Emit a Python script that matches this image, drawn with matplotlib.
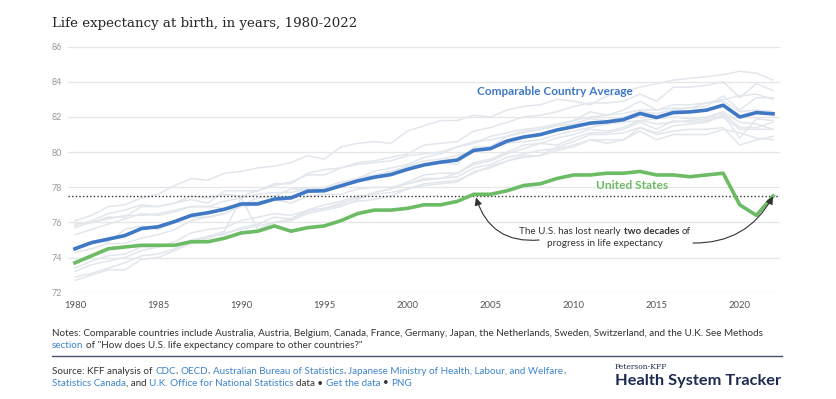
import matplotlib
matplotlib.use("Agg")
import matplotlib.pyplot as plt

# ---------------- data ----------------
years = list(range(1980, 2023))

comparable_avg = [74.5, 74.85, 75.05, 75.25, 75.65, 75.75, 76.05, 76.4, 76.55, 76.75,
                  77.05, 77.05, 77.33, 77.4, 77.78, 77.8, 78.08, 78.36, 78.57, 78.72,
                  79.02, 79.27, 79.43, 79.55, 80.1, 80.2, 80.63, 80.86, 81.0, 81.26,
                  81.45, 81.65, 81.72, 81.85, 82.2, 81.97, 82.25, 82.29, 82.39, 82.67,
                  82.0, 82.25, 82.18]

united_states = [73.7, 74.1, 74.5, 74.6, 74.7, 74.7, 74.7, 74.9, 74.9, 75.1,
                 75.4, 75.5, 75.8, 75.5, 75.7, 75.8, 76.1, 76.5, 76.7, 76.7,
                 76.8, 77.0, 77.0, 77.2, 77.6, 77.6, 77.8, 78.1, 78.2, 78.5,
                 78.7, 78.7, 78.8, 78.8, 78.9, 78.7, 78.7, 78.6, 78.7, 78.8,
                 77.0, 76.4, 77.5]

japan = [76.1, 76.4, 76.9, 77.0, 77.4, 77.6, 78.1, 78.5, 78.4, 78.8,
         78.9, 79.1, 79.2, 79.4, 79.8, 79.6, 80.3, 80.5, 80.6, 80.5,
         81.2, 81.5, 81.8, 81.8, 82.1, 82.0, 82.4, 82.6, 82.7, 83.0,
         82.9, 82.7, 83.2, 83.4, 83.7, 83.9, 84.1, 84.2, 84.3, 84.4,
         84.6, 84.5, 84.1]
switzerland = [75.7, 76.0, 76.3, 76.3, 76.9, 76.9, 77.1, 77.5, 77.4, 77.6,
               77.5, 77.8, 78.1, 78.3, 78.7, 78.7, 79.1, 79.4, 79.5, 79.7,
               79.9, 80.4, 80.5, 80.6, 81.2, 81.4, 81.7, 82.0, 82.1, 82.3,
               82.6, 82.8, 82.8, 82.9, 83.3, 82.9, 83.7, 83.7, 83.8, 84.0,
               83.1, 83.9, 83.5]
australia = [74.6, 74.9, 74.9, 75.6, 75.8, 75.6, 76.0, 76.3, 76.3, 76.5,
             77.0, 77.4, 77.5, 77.9, 77.9, 77.9, 78.2, 78.5, 78.9, 79.1,
             79.3, 79.7, 79.9, 80.3, 80.5, 80.9, 81.1, 81.3, 81.4, 81.6,
             81.8, 82.0, 82.1, 82.2, 82.4, 82.4, 82.5, 82.5, 82.8, 83.0,
             83.2, 83.3, 83.0]
sweden = [75.8, 76.1, 76.5, 76.7, 77.0, 76.9, 77.1, 77.3, 77.1, 77.8,
          77.8, 77.8, 78.2, 78.2, 78.8, 79.0, 79.1, 79.3, 79.4, 79.5,
          79.8, 79.9, 80.0, 80.3, 80.6, 80.7, 80.9, 81.1, 81.3, 81.5,
          81.6, 81.9, 81.8, 82.0, 82.3, 82.2, 82.4, 82.5, 82.6, 83.2,
          82.4, 83.1, 83.1]
france = [74.3, 74.5, 74.8, 74.8, 75.1, 75.3, 75.6, 76.1, 76.3, 76.5,
          76.9, 77.0, 77.3, 77.3, 77.7, 77.9, 78.1, 78.4, 78.6, 78.8,
          79.2, 79.3, 79.4, 79.3, 80.3, 80.3, 80.9, 81.2, 81.3, 81.5,
          81.8, 82.3, 82.1, 82.4, 82.9, 82.4, 82.7, 82.7, 82.8, 82.9,
          82.3, 82.4, 82.3]
canada = [75.3, 75.6, 75.9, 76.2, 76.5, 76.4, 76.6, 76.9, 76.9, 77.2,
          77.4, 77.6, 77.7, 77.7, 77.9, 78.0, 78.3, 78.5, 78.7, 78.9,
          79.2, 79.5, 79.6, 79.8, 80.1, 80.2, 80.5, 80.6, 80.7, 81.0,
          81.2, 81.4, 81.6, 81.7, 81.8, 81.9, 82.0, 81.9, 82.0, 82.3,
          81.7, 81.6, 81.3]
netherlands = [75.9, 76.0, 76.2, 76.4, 76.4, 76.5, 76.7, 76.9, 76.9, 76.8,
               77.0, 77.2, 77.3, 77.1, 77.5, 77.6, 77.6, 77.9, 78.0, 78.0,
               78.2, 78.4, 78.5, 78.8, 79.4, 79.6, 80.0, 80.4, 80.5, 80.8,
               81.0, 81.3, 81.2, 81.4, 81.8, 81.6, 81.7, 81.8, 81.9, 82.2,
               81.4, 81.4, 81.7]
austria = [72.7, 73.0, 73.3, 73.3, 73.9, 74.0, 74.4, 74.8, 75.1, 75.4,
           75.6, 75.8, 76.0, 76.2, 76.6, 76.8, 77.1, 77.4, 77.7, 77.9,
           78.3, 78.7, 78.8, 78.8, 79.3, 79.5, 79.9, 80.2, 80.5, 80.4,
           80.8, 81.1, 81.1, 81.3, 81.7, 81.3, 81.8, 81.7, 81.8, 82.0,
           81.3, 81.3, 81.3]
belgium = [73.4, 73.8, 74.1, 74.2, 74.6, 74.6, 74.9, 75.4, 75.6, 75.7,
           76.1, 76.3, 76.5, 76.4, 76.7, 77.0, 77.2, 77.5, 77.6, 77.7,
           77.9, 78.1, 78.2, 78.3, 78.9, 79.1, 79.5, 79.8, 79.8, 80.1,
           80.3, 80.7, 80.5, 80.7, 81.4, 81.1, 81.5, 81.6, 81.7, 82.1,
           80.8, 81.9, 81.8]
germany = [72.9, 73.1, 73.4, 73.7, 74.1, 74.2, 74.5, 74.9, 75.2, 75.5,
           77.4, 75.6, 76.0, 76.1, 76.5, 76.7, 76.9, 77.3, 77.7, 77.9,
           78.2, 78.5, 78.5, 78.6, 79.1, 79.3, 79.7, 79.9, 80.1, 80.2,
           80.4, 80.7, 80.7, 80.7, 81.2, 80.7, 81.0, 81.0, 81.0, 81.3,
           81.1, 80.8, 80.7]
united_kingdom = [73.2, 73.6, 73.8, 74.0, 74.4, 74.6, 74.7, 75.0, 75.2, 75.3,
                  75.7, 75.9, 76.3, 76.2, 76.7, 76.8, 77.0, 77.2, 77.3, 77.5,
                  77.9, 78.2, 78.3, 78.4, 78.8, 79.2, 79.5, 79.7, 79.8, 80.3,
                  80.6, 81.0, 81.0, 81.1, 81.4, 81.0, 81.2, 81.3, 81.3, 81.4,
                  80.4, 80.7, 80.9]

comparison_countries = [japan, switzerland, australia, sweden, france, canada,
                        netherlands, austria, belgium, germany, united_kingdom]

y_ticks = [72, 74, 76, 78, 80, 82, 84, 86]
x_ticks = [1980, 1985, 1990, 1995, 2000, 2005, 2010, 2015, 2020]
us_2022_level = 77.5

title_text = "Life expectancy at birth, in years, 1980-2022"
label_avg = "Comparable Country Average"
label_us = "United States"

# ---------------- figure ----------------
W, H = 836, 399
fig = plt.figure(figsize=(W / 100, H / 100), dpi=100)
fig.patch.set_facecolor("white")

FONT = ["Lato", "DejaVu Sans"]
BLUE = "#3f78c4"
GREEN = "#6cbb65"
GRAY_LINE = "#e2e7ed"
LINK = "#3d84cc"
TXT = "#333333"


def fx(x):
    return x / W


def fy(y):
    return 1 - y / H


left, right, top, bottom = 68, 780, 46.7, 292.7
ax = fig.add_axes([fx(left), fy(bottom), (right - left) / W, (bottom - top) / H])
ax.set_xlim(1979.58, 2022.42)
ax.set_ylim(72, 86)
for s in ax.spines.values():
    s.set_visible(False)
ax.set_yticks(y_ticks)
ax.set_xticks(x_ticks)
ax.set_yticklabels([str(v) for v in y_ticks], fontfamily=FONT, fontsize=6.5, color="#9a9a9a")
ax.set_xticklabels([str(v) for v in x_ticks], fontfamily=FONT, fontsize=6.8, color="#555555")
ax.tick_params(axis="y", length=0, pad=4.5)
ax.tick_params(axis="x", length=0, pad=6.0)
ax.grid(axis="y", color="#e6e6e6", lw=0.9)
ax.set_axisbelow(True)

for c in comparison_countries:
    ax.plot(years, c, color=GRAY_LINE, lw=1.1, zorder=2, solid_joinstyle="round")

ax.axhline(us_2022_level, color="#333333", lw=1.0, ls=(0, (1, 1.6)), zorder=3)
ax.plot(years, united_states, color=GREEN, lw=2.6, zorder=4, solid_joinstyle="round")
ax.plot(years, comparable_avg, color=BLUE, lw=2.6, zorder=5, solid_joinstyle="round")

renderer = fig.canvas.get_renderer()


def width_of(t):
    return t.get_window_extent(renderer).width


def fit_text(t, target_w):
    w = width_of(t)
    t.set_fontsize(t.get_fontsize() * target_w / w)


def px_to_data(px, py):
    return (1980 + (px - 75) / 16.62, 86 - (py - 46.7) / 17.57)


# series labels
t_avg = ax.text(*px_to_data(555, 91), label_avg, ha="center", va="center",
                fontfamily=FONT, fontweight="bold", color=BLUE, fontsize=8.5, zorder=6)
fit_text(t_avg, 155)
t_us = ax.text(*px_to_data(632, 185), label_us, ha="center", va="center",
               fontfamily=FONT, fontweight="bold", color=GREEN, fontsize=8.5, zorder=6)
fit_text(t_us, 72)


def measure(s, size, family, weight="normal"):
    t = fig.text(0, 0, s, fontsize=size, fontfamily=family, fontweight=weight)
    w = width_of(t)
    t.remove()
    return w


def adv(s, size, family, weight="normal"):
    # advance width of s, independent of bounding-box side bearings
    return measure("x" + s + "x", size, family, weight) - measure("xx", size, family, weight)


def runs_line(x, y, runs, size, family=FONT, center=False, draw=True):
    cur = x
    texts = []
    for text, color, weight in runs:
        lead = len(text) - len(text.lstrip(" "))
        start = cur + (adv(" " * lead, size, family, weight) if lead else 0)
        t = fig.text(fx(start), fy(y), text.strip(" "), fontsize=size, fontfamily=family,
                     fontweight=weight, color=color, ha="left", va="center")
        cur += adv(text, size, family, weight)
        texts.append(t)
    total = cur - x
    if center:
        for t in texts:
            px0 = t.get_position()[0] * W
            t.set_x(fx(px0 - total / 2))
    if not draw:
        for t in texts:
            t.remove()
    return texts, total


# annotation text
ann_runs = [("The U.S. has lost nearly ", TXT, "normal"),
            ("two decades", TXT, "bold"), (" of", TXT, "normal")]
_, w1 = runs_line(0, -50, ann_runs, 6.6, draw=False)
ann_size = 6.6 * 170 / w1
runs_line(605, 232, ann_runs, ann_size, center=True)
fig.text(fx(605), fy(243.5), "progress in life expectancy", fontsize=ann_size,
         fontfamily=FONT, color=TXT, ha="center", va="center")

arrow_kw = dict(arrowstyle="-|>,head_length=0.45,head_width=0.22", color="#333333",
                lw=0.8, shrinkA=0, shrinkB=0, mutation_scale=10)
ax.annotate("", xy=px_to_data(476, 197.5), xytext=px_to_data(539, 240),
            arrowprops=dict(connectionstyle="arc3,rad=-0.4", **arrow_kw), zorder=7)
ax.annotate("", xy=px_to_data(773, 196.5), xytext=px_to_data(693, 243),
            arrowprops=dict(connectionstyle="arc3,rad=0.3", **arrow_kw), zorder=7)

# title
t_title = fig.text(fx(52), fy(23), title_text, fontfamily=["DejaVu Serif"], fontsize=10,
                   color="#262626", ha="left", va="center")
fit_text(t_title, 305)

# notes
notes1 = ("Notes: Comparable countries include Australia, Austria, Belgium, Canada, France, "
          "Germany, Japan, the Netherlands, Sweden, Switzerland, and the U.K. See Methods")
t_n1 = fig.text(fx(52), fy(334), notes1, fontfamily=FONT, fontsize=7, color=TXT,
                ha="left", va="center")
fit_text(t_n1, 708)
note_size = t_n1.get_fontsize()
runs_line(52, 345.5, [("section", LINK, "normal"),
                      (" of \"How does U.S. life expectancy compare to other countries?\"", TXT, "normal")],
          note_size)

fig.add_artist(plt.Line2D([fx(52), fx(782)], [fy(355.5), fy(355.5)], color="#4a5170", lw=1.0))

runs_line(52, 371.5, [("Source: KFF analysis of ", TXT, "normal"), ("CDC", LINK, "normal"),
                      (", ", TXT, "normal"), ("OECD", LINK, "normal"), (", ", TXT, "normal"),
                      ("Australian Bureau of Statistics", LINK, "normal"), (", ", TXT, "normal"),
                      ("Japanese Ministry of Health, Labour, and Welfare", LINK, "normal"),
                      (",", TXT, "normal")], note_size)
runs_line(52, 383, [("Statistics Canada", LINK, "normal"), (", and ", TXT, "normal"),
                    ("U.K. Office for National Statistics", LINK, "normal"),
                    (" data \u2022 ", TXT, "normal"), ("Get the data", LINK, "normal"),
                    (" \u2022 ", TXT, "normal"), ("PNG", LINK, "normal")], note_size)

# logo
t_pk = fig.text(fx(615), fy(367), "Peterson-KFF", fontfamily=["DejaVu Serif"], fontsize=5,
                color="#1d2b52", ha="left", va="center")
fit_text(t_pk, 53)
t_hst = fig.text(fx(615), fy(381), "Health System Tracker", fontfamily=FONT, fontweight="bold",
                 fontsize=10, color="#1d2b52", ha="left", va="center")
fit_text(t_hst, 167)

fig.savefig("out.png", dpi=100, facecolor="white")
